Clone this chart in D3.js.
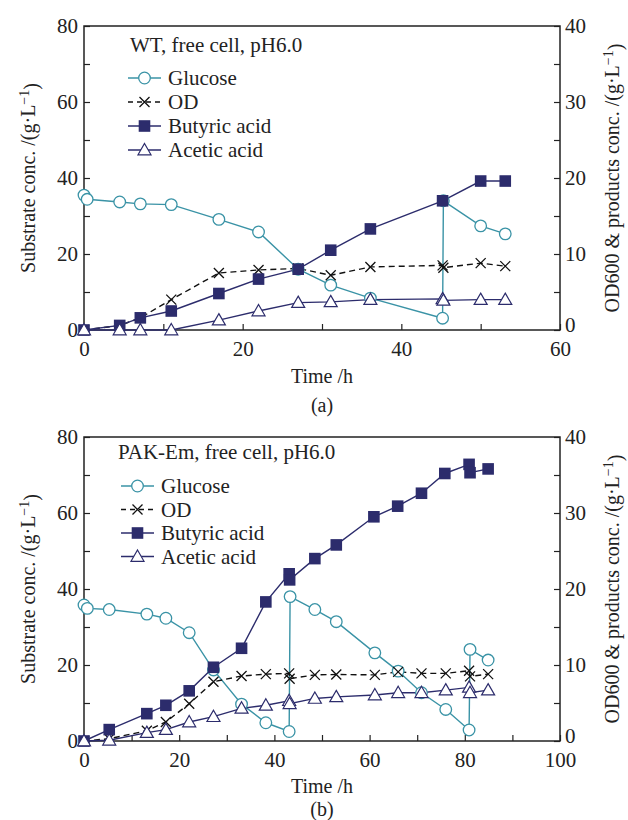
<!DOCTYPE html>
<html>
<head>
<meta charset="utf-8">
<script src="https://cdn.jsdelivr.net/npm/d3@7"></script>
<style>
body { margin: 0; background: #fff; }
text { font-family: "Liberation Serif", "Times New Roman", serif; }
</style>
</head>
<body>
<svg id="chart"></svg>
<script>
var W = 628, H = 820;
var teal = "#3a93a6", navy = "#2c2c6c", ink = "#222";

// panel (a): WT, free cell  -- [time h, value]
var glucoseA = [[0,35.5],[0.4,34.4],[4.5,33.7],[7.1,33.2],[11,33.0],[17,29.1],[22,25.8],[27,16.0],[31.1,11.8],[36.1,8.4],[45.2,3.1],[45.3,34.0],[50,27.4],[53.1,25.3]];
var odA = [[0,0],[4.5,0.6],[7.1,1.6],[11,4.0],[17,7.5],[22,7.9],[27,8.1],[31.1,7.2],[36.1,8.3],[45.2,8.5],[45.3,8.2],[50,8.8],[53.1,8.4]];
var butyricA = [[0,0],[4.5,0.6],[7.1,1.6],[11,2.5],[17,4.8],[22,6.7],[27,8.0],[31.1,10.5],[36.1,13.3],[45.2,17.0],[50,19.6],[53.1,19.6]];
var aceticA = [[0,0],[4.5,0],[7.1,0],[11,0],[17,1.3],[22,2.5],[27,3.6],[31.1,3.7],[36.1,4.0],[45.2,4.1],[45.3,3.9],[50,4.0],[53.1,4.0]];

// panel (b): PAK-Em, free cell
var glucoseB = [[0,35.8],[0.7,34.9],[5.3,34.6],[13.2,33.4],[17.2,32.3],[22.1,28.5],[27.2,18.7],[33.1,9.7],[38.2,4.8],[43.1,2.5],[43.3,38.0],[48.5,34.6],[53,31.4],[61.1,23.2],[66,18.4],[70.9,12.7],[76,8.3],[80.9,2.9],[81.1,24.1],[84.9,21.3]];
var odB = [[0,0],[5.3,0.3],[13.2,1.35],[17.2,2.5],[22.1,4.9],[27.2,7.8],[33.1,8.55],[38.2,8.8],[43.1,8.9],[43.2,8.2],[48.5,8.7],[53,8.75],[61.1,8.7],[66,9.1],[70.9,8.9],[76,8.9],[80.9,9.25],[81.1,8.5],[84.9,8.8]];
var butyricB = [[0,0],[5.3,1.5],[13.2,3.6],[17.2,4.7],[22.1,6.6],[27.2,9.7],[33.1,12.2],[38.2,18.3],[43.1,22.0],[43.2,21.2],[48.5,24.0],[53,25.8],[60.9,29.5],[65.9,30.9],[70.9,32.6],[75.8,35.2],[80.9,36.4],[81.1,35.3],[84.9,35.8]];
var aceticB = [[0,0],[5.3,0.1],[13.2,1.1],[17.2,1.5],[22.1,2.5],[27.2,3.2],[33.1,4.3],[38.2,4.7],[43.1,5.3],[43.2,4.9],[48.5,5.6],[53,5.8],[61.1,6.05],[66,6.35],[70.9,6.35],[76,6.7],[80.9,7.05],[81.1,6.35],[84.9,6.7]];

var seriesNames = ["Glucose", "OD", "Butyric acid", "Acetic acid"];
var leftTicks = [0, 10, 20, 30, 40, 50, 60, 70, 80];
var rightTicks = [0, 5, 10, 15, 20, 25, 30, 35, 40];

var svg = d3.select("#chart").attr("width", W).attr("height", H);

var left = 84, right = 560;

function marker(sel, type) {
  if (type == "circle") {
    sel.append("circle").attr("r", 5.8).attr("fill", "#fff").attr("stroke", teal).attr("stroke-width", 1.3);
  } else if (type == "square") {
    sel.append("rect").attr("x", -5.8).attr("y", -5.8).attr("width", 11.6).attr("height", 11.6).attr("fill", navy);
  } else if (type == "tri") {
    sel.append("path").attr("d", "M0,-6.5L6.5,4.8L-6.5,4.8Z").attr("fill", "#fff").attr("stroke", navy).attr("stroke-width", 1.2);
  } else {
    sel.append("path").attr("d", "M-5,-5L5,5M-5,5L5,-5").attr("stroke", "#111").attr("stroke-width", 1.3);
  }
}

function drawPanel(p) {
  var x = d3.scaleLinear().domain([0, p.xMax]).range([left, right]);
  var yL = d3.scaleLinear().domain([0, 80]).range([p.bottom, p.top]);
  var yR = d3.scaleLinear().domain([0, 40]).range([p.bottom, p.top]);
  var g = svg.append("g");

  // axes with inward ticks
  var ax = g.append("g").attr("transform", `translate(${left},0)`)
    .call(d3.axisLeft(yL).tickValues(leftTicks).tickSize(-6).tickSizeOuter(0).tickPadding(6)
      .tickFormat(d => d % 20 ? "" : d));
  var ay = g.append("g").attr("transform", `translate(${right},0)`)
    .call(d3.axisRight(yR).tickValues(rightTicks).tickSize(-6).tickSizeOuter(0).tickPadding(5)
      .tickFormat(d => d % 10 ? "" : d));
  var axb = g.append("g").attr("transform", `translate(0,${p.bottom})`)
    .call(d3.axisBottom(x).tickValues(d3.range(0, p.xMax + 1, 10)).tickSize(-6).tickSizeOuter(0).tickPadding(11)
      .tickFormat(d => d % 20 ? "" : d));
  [ax, ay, axb].forEach(function(a) {
    a.attr("font-family", null).attr("font-size", 21);
    a.select(".domain").remove();
    a.selectAll("line").attr("stroke", ink).attr("stroke-width", 1.2);
    a.selectAll("text").attr("fill", ink);
  });
  // lift the right-hand zero a little so it clears the bottom labels
  ay.selectAll(".tick").filter(d => d == 0).select("text").attr("dy", "0.05em");

  g.append("rect").attr("x", left).attr("y", p.top).attr("width", right - left).attr("height", p.bottom - p.top)
    .attr("fill", "none").attr("stroke", ink).attr("stroke-width", 1.5);

  var lineL = d3.line().x(d => x(d[0])).y(d => yL(d[1]));
  var lineR = d3.line().x(d => x(d[0])).y(d => yR(d[1]));

  var sets = [
    {data: p.glucose, line: lineL, y: yL, color: teal, dash: null, m: "circle"},
    {data: p.od, line: lineR, y: yR, color: "#111", dash: "6,4", m: "cross"},
    {data: p.butyric, line: lineR, y: yR, color: navy, dash: null, m: "square"},
    {data: p.acetic, line: lineR, y: yR, color: navy, dash: null, m: "tri"}
  ];
  sets.forEach(function(s) {
    g.append("path").datum(s.data).attr("d", s.line).attr("fill", "none")
      .attr("stroke", s.color).attr("stroke-width", 1.4).attr("stroke-dasharray", s.dash);
  });
  sets.forEach(function(s) {
    g.append("g").selectAll("g").data(s.data).join("g")
      .attr("transform", d => `translate(${x(d[0])},${s.y(d[1])})`)
      .each(function() { marker(d3.select(this), s.m); });
  });

  // legend
  g.append("text").attr("x", p.titleX).attr("y", p.titleY).attr("dy", "0.35em")
    .attr("font-size", 21).attr("fill", ink).text(p.title);
  sets.forEach(function(s, i) {
    var yy = p.legY + i * p.legStep;
    var lg = g.append("g");
    lg.append("line").attr("x1", p.legX).attr("x2", p.legX + 33).attr("y1", yy).attr("y2", yy)
      .attr("stroke", s.color).attr("stroke-width", 1.4).attr("stroke-dasharray", s.dash ? "5,4" : null);
    marker(lg.append("g").attr("transform", `translate(${p.legX + 16.5},${yy})`), s.m);
    lg.append("text").attr("x", p.legX + 40).attr("y", yy).attr("dy", "0.35em")
      .attr("font-size", 21).attr("fill", ink).text(seriesNames[i]);
  });

  // axis titles
  var mid = (p.top + p.bottom) / 2;
  var t1 = g.append("text").attr("transform", `translate(28,${mid}) rotate(-90)`)
    .attr("text-anchor", "middle").attr("dy", "0.35em").attr("font-size", 20).attr("fill", ink);
  t1.append("tspan").text("Substrate conc. /(g·L");
  t1.append("tspan").attr("dy", "-0.45em").attr("font-size", 14).text("−1");
  t1.append("tspan").attr("dy", "0.45em").text(")");
  var t2 = g.append("text").attr("transform", `translate(612,${mid}) rotate(-90)`)
    .attr("text-anchor", "middle").attr("dy", "0.35em").attr("font-size", 20).attr("fill", ink);
  t2.append("tspan").text("OD600 & products conc. /(g·L");
  t2.append("tspan").attr("dy", "-0.45em").attr("font-size", 14).text("−1");
  t2.append("tspan").attr("dy", "0.45em").text(")");

  g.append("text").attr("x", (left + right) / 2).attr("y", p.timeY).attr("dy", "0.35em")
    .attr("text-anchor", "middle").attr("font-size", 20).attr("fill", ink).text("Time /h");
  g.append("text").attr("x", (left + right) / 2).attr("y", p.capY).attr("dy", "0.35em")
    .attr("text-anchor", "middle").attr("font-size", 20).attr("fill", ink).text(p.caption);
}

drawPanel({
  top: 26, bottom: 330, xMax: 60,
  glucose: glucoseA, od: odA, butyric: butyricA, acetic: aceticA,
  title: "WT, free cell, pH6.0", titleX: 130, titleY: 45,
  legX: 128, legY: 78, legStep: 24, timeY: 376, capY: 405, caption: "(a)"
});
drawPanel({
  top: 437, bottom: 741, xMax: 100,
  glucose: glucoseB, od: odB, butyric: butyricB, acetic: aceticB,
  title: "PAK-Em, free cell, pH6.0", titleX: 118, titleY: 452,
  legX: 121, legY: 486, legStep: 23.5, timeY: 786, capY: 809, caption: "(b)"
});
</script>
</body>
</html>
